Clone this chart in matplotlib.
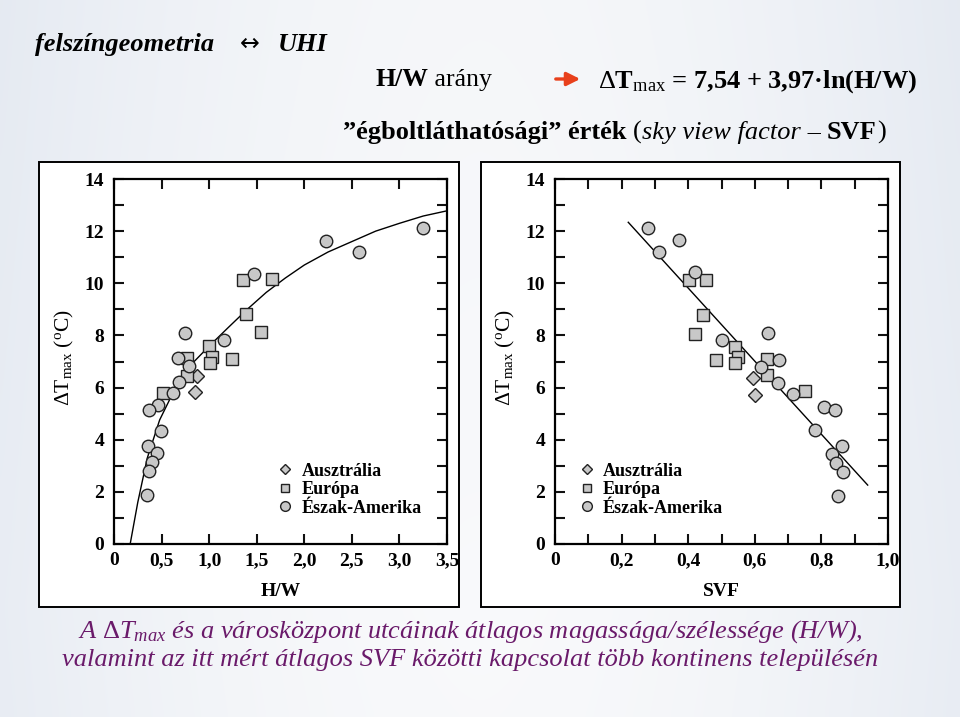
"""felszíngeometria ↔ UHI – H/W és SVF kapcsolata a ΔTmax értékkel"""

import numpy as np
import matplotlib
matplotlib.use('Agg')
import matplotlib.pyplot as plt
from matplotlib.patches import Rectangle, FancyArrowPatch
from matplotlib.lines import Line2D
from matplotlib.ticker import FixedLocator, MultipleLocator

plt.rcParams['font.family'] = ['Liberation Serif', 'DejaVu Serif']
plt.rcParams['mathtext.fontset'] = 'custom'
plt.rcParams['mathtext.rm'] = 'Liberation Serif'
plt.rcParams['mathtext.it'] = 'Liberation Serif:italic'
plt.rcParams['mathtext.bf'] = 'Liberation Serif:bold'

# ---- adatok (leolvasva) ----
# H/W – ΔTmax
hw_ausztralia = [0.87, 0.85]
dt_hw_ausztralia = [6.44, 5.82]
hw_europa = [1.36, 1.66, 1.39, 1.54, 1.00, 0.77, 1.03, 1.01, 1.24, 0.77, 0.52]
dt_hw_europa = [10.14, 10.18, 8.81, 8.14, 7.58, 7.15, 7.17, 6.93, 7.11, 6.46, 5.80]
hw_eszak_amerika = [3.25, 2.23, 2.57, 1.47, 0.75, 1.16, 0.67, 0.79, 0.68, 0.62,
                    0.46, 0.37, 0.49, 0.36, 0.45, 0.40, 0.37, 0.35]
dt_hw_eszak_amerika = [12.13, 11.63, 11.20, 10.34, 8.08, 7.83, 7.12, 6.83, 6.20, 5.80,
                       5.34, 5.14, 4.33, 3.76, 3.50, 3.16, 2.80, 1.88]
# illesztett görbe (leolvasott pontok)
hw_gorbe_x = [0.17, 0.25, 0.35, 0.48, 0.60, 0.80, 1.00, 1.20, 1.40, 1.60, 1.80,
              2.00, 2.25, 2.50, 2.75, 3.00, 3.25, 3.50]
hw_gorbe_y = [0.0, 1.6, 3.3, 4.76, 5.65, 6.84, 7.59, 8.30, 9.00, 9.65, 10.20,
              10.70, 11.20, 11.60, 12.00, 12.30, 12.58, 12.78]

# SVF – ΔTmax
svf_ausztralia = [0.594, 0.600]
dt_svf_ausztralia = [6.38, 5.73]
svf_europa = [0.403, 0.453, 0.443, 0.420, 0.541, 0.550, 0.541, 0.483, 0.636, 0.637, 0.750]
dt_svf_europa = [10.11, 10.11, 8.77, 8.07, 7.56, 7.19, 6.96, 7.07, 7.11, 6.49, 5.86]
svf_eszak_amerika = [0.280, 0.311, 0.371, 0.421, 0.503, 0.641, 0.674, 0.618, 0.671, 0.714,
                     0.807, 0.840, 0.781, 0.863, 0.833, 0.843, 0.864, 0.851]
dt_svf_eszak_amerika = [12.13, 11.21, 11.66, 10.43, 7.81, 8.09, 7.07, 6.79, 6.19, 5.77,
                        5.27, 5.13, 4.39, 3.77, 3.45, 3.09, 2.76, 1.85]
svf_egyenes_x = [0.220, 0.939]
svf_egyenes_y = [12.34, 2.26]

y_ticks = [0, 2, 4, 6, 8, 10, 12, 14]
y_tick_labels = ['0', '2', '4', '6', '8', '10', '12', '14']
hw_ticks = [0, 0.5, 1.0, 1.5, 2.0, 2.5, 3.0, 3.5]
hw_tick_labels = ['0', '0,5', '1,0', '1,5', '2,0', '2,5', '3,0', '3,5']
svf_ticks = [0, 0.2, 0.4, 0.6, 0.8, 1.0]
svf_tick_labels = ['0', '0,2', '0,4', '0,6', '0,8', '1,0']
csoportok = ['Ausztrália', 'Európa', 'Észak-Amerika']

W, H = 960, 717
fig = plt.figure(figsize=(W / 100, H / 100), dpi=100)


def fx(px):
    return px / W


def fy(py):
    return 1 - py / H


# háttér színátmenet
bg = fig.add_axes([0, 0, 1, 1], zorder=-10)
gx = np.linspace(-1, 1, 200)
gy = np.linspace(0, 1, 150)
XX, YY = np.meshgrid(gx, gy)
light = 1 - 0.5 * np.abs(XX) ** 1.8 - 0.12 * np.abs(YY - 0.85)
c_lo = np.array([0.85, 0.88, 0.925])
c_hi = np.array([0.975, 0.978, 0.985])
img = c_lo + (c_hi - c_lo) * np.clip(light, 0, 1)[..., None]
bg.imshow(img, aspect='auto', extent=[0, 1, 0, 1], interpolation='bicubic')
bg.set_axis_off()

# fehér keretek
for x0, x1 in [(39, 459), (481, 900)]:
    fig.patches.append(Rectangle((fx(x0), fy(607)), fx(x1 - x0), (607 - 162) / H,
                                 transform=fig.transFigure, facecolor='white',
                                 edgecolor='black', linewidth=1.4, zorder=-5))

mk = dict(markerfacecolor='#c8c8c8', markeredgecolor='#222222', markeredgewidth=1.0,
          linestyle='none')
tick_font = dict(fontsize=14, fontweight='bold')


def style_axes(ax, xticks, xlabels, xminor):
    ax.set_ylim(0, 14)
    ax.yaxis.set_major_locator(FixedLocator(y_ticks))
    ax.set_yticklabels(y_tick_labels, **tick_font)
    ax.yaxis.set_minor_locator(MultipleLocator(1))
    ax.xaxis.set_major_locator(FixedLocator(xticks))
    ax.set_xticklabels(xlabels, **tick_font)
    ax.xaxis.set_minor_locator(MultipleLocator(xminor))
    ax.tick_params(which='both', direction='in', top=True, right=True,
                   length=7, width=1.5, color='#111111')
    ax.tick_params(axis='y', pad=7)
    ax.tick_params(axis='x', pad=6)
    for s in ax.spines.values():
        s.set_linewidth(1.6)
    ax.set_ylabel(r'$\Delta$T$_{\rm max}$ ($^{\rm o}$C)', fontsize=15.5)
    ax.yaxis.set_label_coords(-0.114, 0.512)


def legend(ax, x0):
    handles = [Line2D([], [], marker='D', markersize=5.5, **mk),
               Line2D([], [], marker='s', markersize=6, **mk),
               Line2D([], [], marker='o', markersize=7, **mk)]
    ax.legend(handles, csoportok, loc='lower left', bbox_to_anchor=(x0, 0.055),
              frameon=False, handlelength=1.0, handletextpad=0.4,
              labelspacing=0.08, borderaxespad=0,
              prop=dict(size=13, weight='bold'))


# bal grafikon: H/W
ax1 = fig.add_axes([fx(114), fy(544), fx(333), 365 / H])
ax1.set_xlim(0, 3.5)
ax1.plot(hw_gorbe_x, hw_gorbe_y, color='black', linewidth=1.0)
ax1.plot(hw_ausztralia, dt_hw_ausztralia, marker='D', markersize=7, **mk)
ax1.plot(hw_europa, dt_hw_europa, marker='s', markersize=8, **mk)
ax1.plot(hw_eszak_amerika, dt_hw_eszak_amerika, marker='o', markersize=9, **mk)
style_axes(ax1, hw_ticks, hw_tick_labels, 0.5)
ax1.set_xlabel('H/W', fontsize=14, fontweight='bold')
ax1.xaxis.set_label_coords(0.5, -0.106)
legend(ax1, 0.466)

# jobb grafikon: SVF
ax2 = fig.add_axes([fx(555), fy(544), fx(333), 365 / H])
ax2.set_xlim(0, 1.0)
ax2.plot(svf_egyenes_x, svf_egyenes_y, color='black', linewidth=1.0)
ax2.plot(svf_ausztralia, dt_svf_ausztralia, marker='D', markersize=7, **mk)
ax2.plot(svf_europa, dt_svf_europa, marker='s', markersize=8, **mk)
ax2.plot(svf_eszak_amerika, dt_svf_eszak_amerika, marker='o', markersize=9, **mk)
style_axes(ax2, svf_ticks, svf_tick_labels, 0.1)
ax2.set_xlabel('SVF', fontsize=14, fontweight='bold')
ax2.xaxis.set_label_coords(0.5, -0.106)
legend(ax2, 0.046)

# címsorok
renderer = fig.canvas.get_renderer()


def text_run(x, y, parts, size):
    """Egymás után írt, eltérő stílusú szövegdarabok."""
    for s, kw in parts:
        opts = dict(fontsize=size, va='baseline', ha='left')
        opts.update(kw)
        t = fig.text(x, y, s, **opts)
        bb = t.get_window_extent(renderer)
        x = bb.x1 / W


B = dict(fontweight='bold')
R = dict()
BI = dict(fontweight='bold', style='italic')
fig.text(fx(35), fy(51), 'felszíngeometria', fontsize=19, va='baseline', **BI)
fig.text(fx(240), fy(51), '↔', fontsize=17, va='baseline', family=['DejaVu Sans'])
fig.text(fx(278), fy(51), 'UHI', fontsize=19, va='baseline', **BI)
text_run(fx(375), fy(86), [('H/W', B), (' arány', R)], 18.5)
text_run(fx(598), fy(88), [(r'$\Delta$T$_{\rm max}$ = 7,54 + 3,97·ln(H/W)', B)], 19)
text_run(fx(343), fy(139), [('”égboltláthatósági” érték ', B), ('(', R),
                            ('sky view factor', dict(style='italic')), (' – ', R),
                            ('SVF', B), (')', R)], 19)

fig.patches.append(FancyArrowPatch(
    (fx(553), fy(79)), (fx(583), fy(79)), transform=fig.transFigure,
    arrowstyle='-|>,head_length=8,head_width=4', mutation_scale=1,
    color='#e8401c', linewidth=2.4))

# képaláírás
purple = '#6a1a6a'
fig.text(fx(470), fy(638), r'A $\Delta T_{max}$ és a városközpont utcáinak átlagos '
         r'magassága/szélessége (H/W),', fontsize=19, style='italic', color=purple,
         ha='center', va='baseline')
fig.text(fx(470), fy(666), 'valamint az itt mért átlagos SVF közötti kapcsolat több '
         'kontinens településén', fontsize=19, style='italic', color=purple,
         ha='center', va='baseline')

fig.savefig('out.png', dpi=100)
